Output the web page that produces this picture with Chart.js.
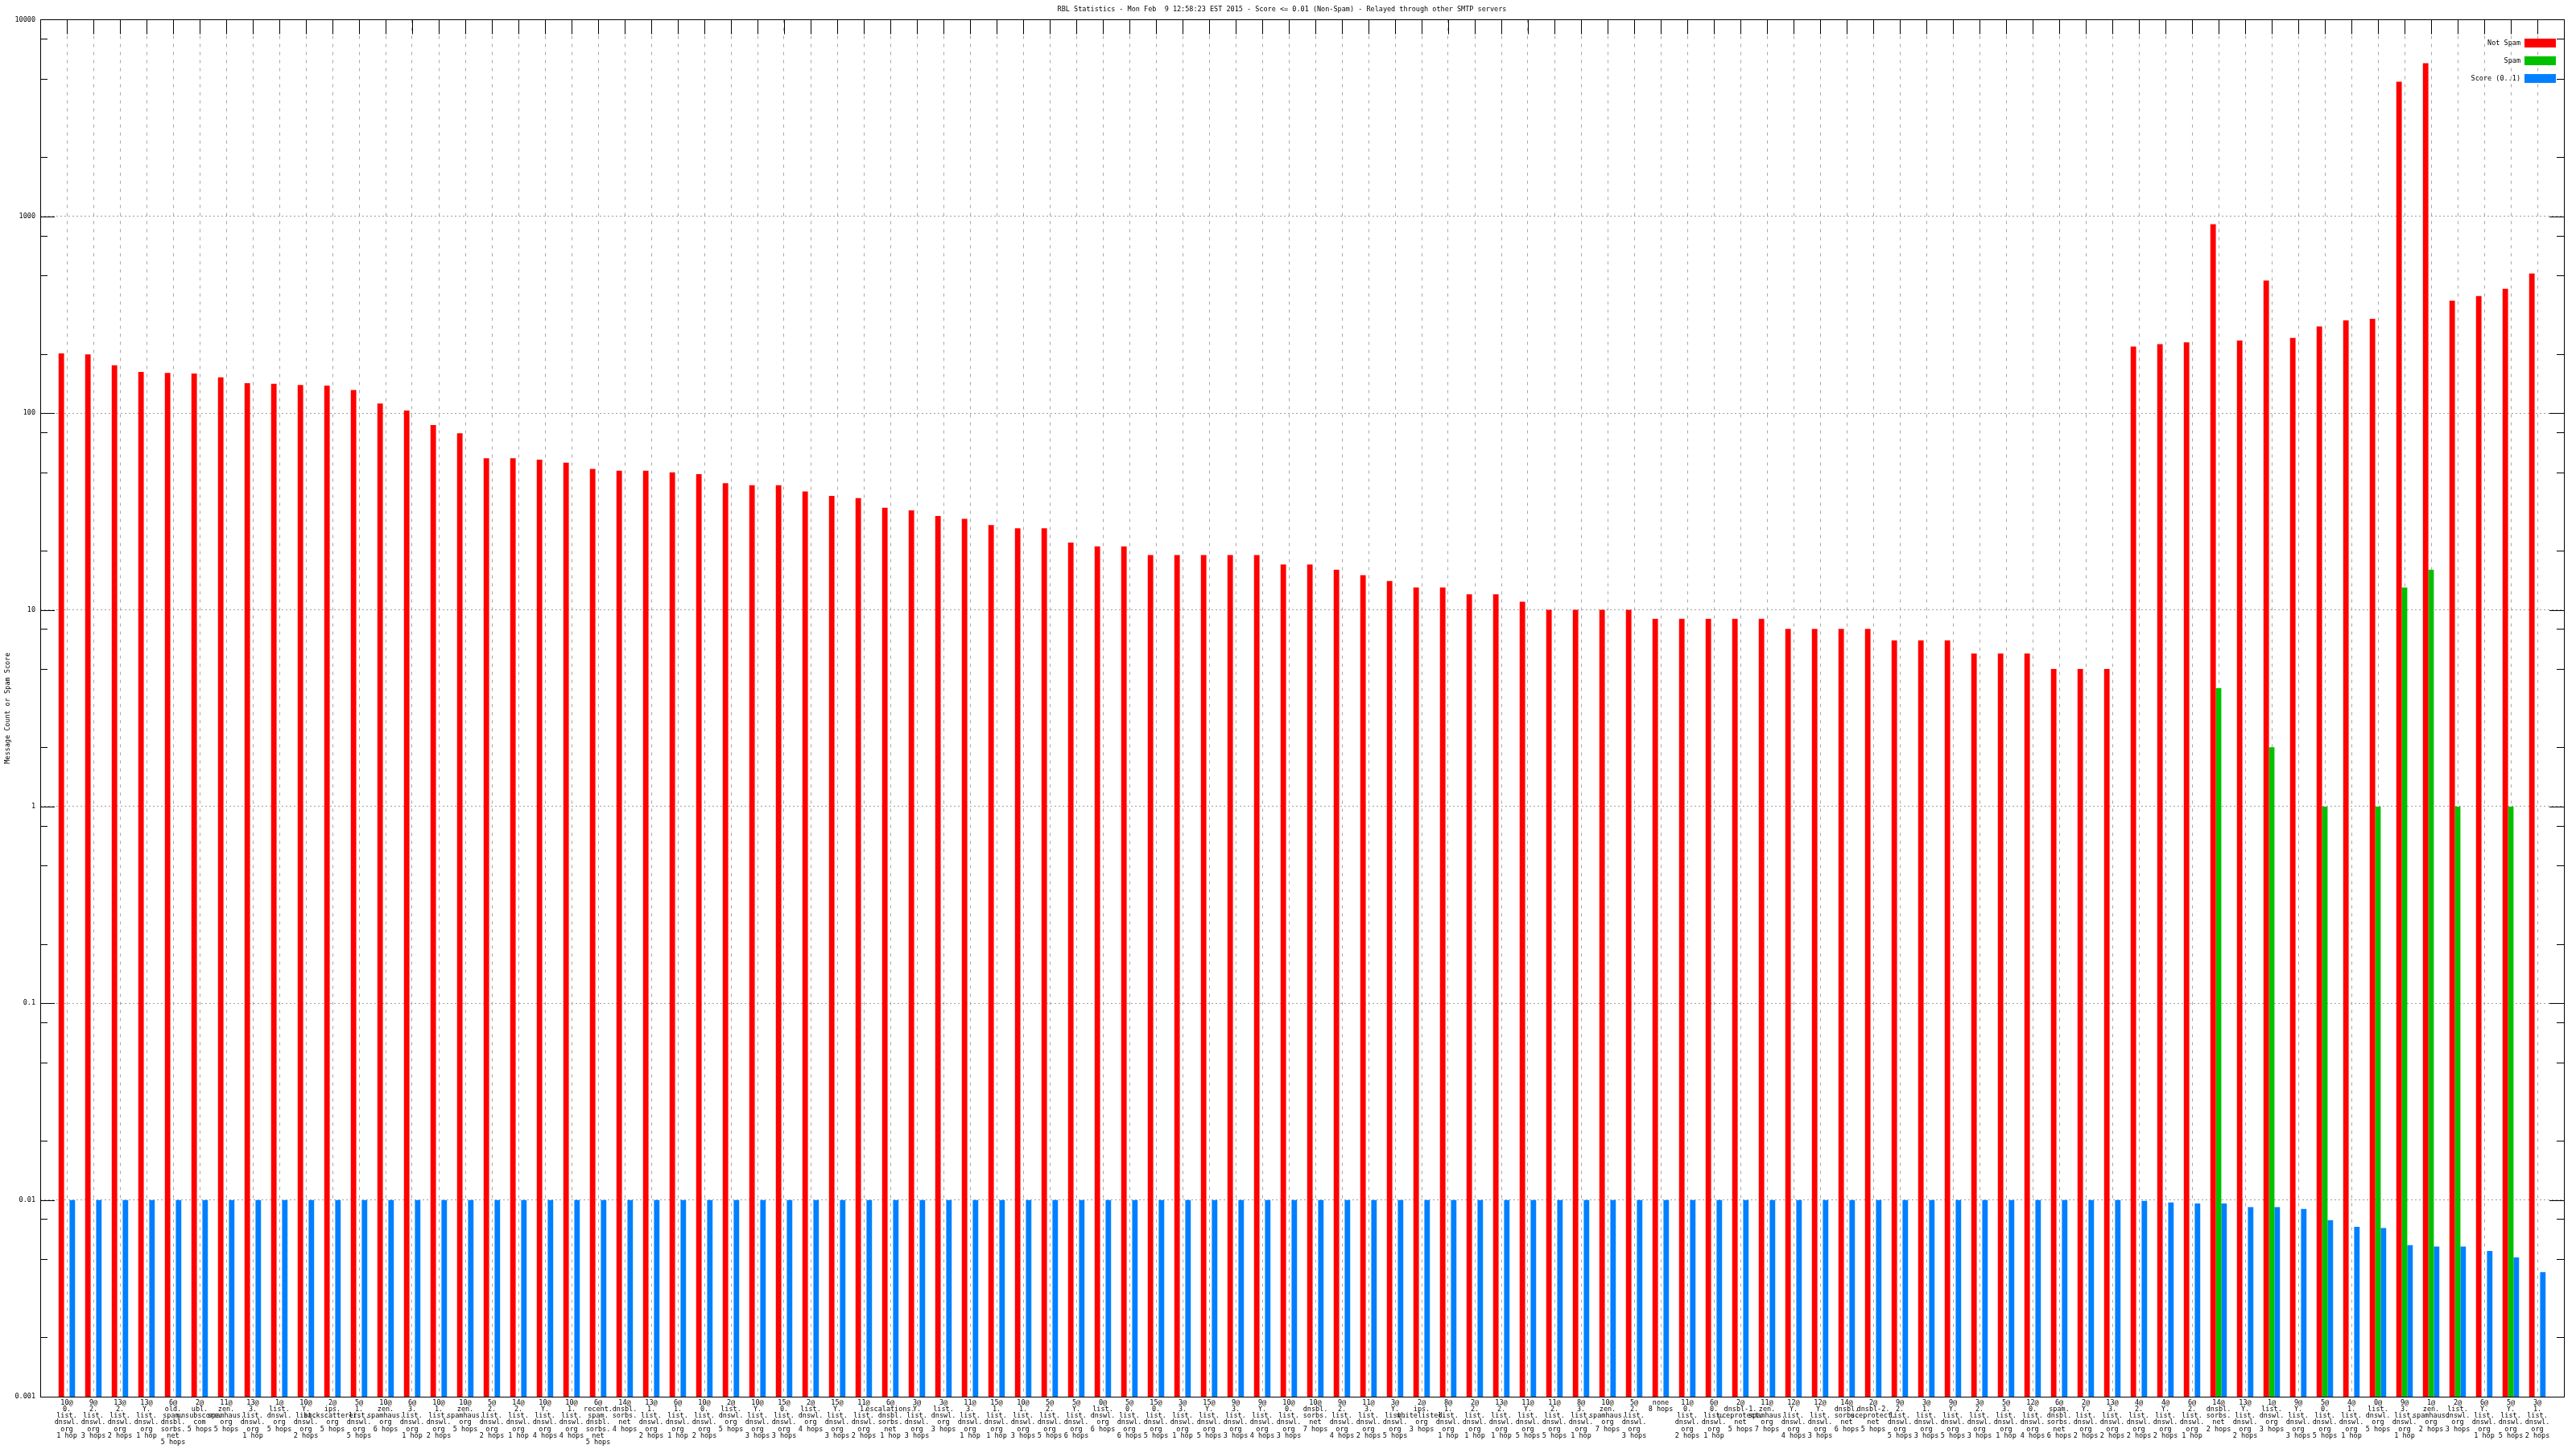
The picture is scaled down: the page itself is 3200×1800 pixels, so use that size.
<!DOCTYPE html>
<html>
<head>
<meta charset="utf-8">
<title>RBL Statistics</title>
<script src="https://cdn.jsdelivr.net/npm/chart.js@4/dist/chart.umd.min.js"></script>
<style>
  html, body { margin: 0; padding: 0; background: #fff; }
</style>
</head>
<body>
<canvas id="rblChart" width="3200" height="1800"></canvas>
<script>
// rbl lookups (one per bar group), split into lines on '@' and '.'
const rblNames = [
  '10@0.list.dnswl.org', '9@2.list.dnswl.org', '13@2.list.dnswl.org', '13@Y.list.dnswl.org',
  '6@old.spam.dnsbl.sorbs.net', '2@ubl.unsubscore.com', '11@zen.spamhaus.org', '13@3.list.dnswl.org',
  '1@list.dnswl.org', '10@Y.list.dnswl.org', '2@ips.backscatterer.org', '5@1.list.dnswl.org',
  '10@zen.spamhaus.org', '6@3.list.dnswl.org', '10@1.list.dnswl.org', '10@zen.spamhaus.org',
  '5@2.list.dnswl.org', '14@2.list.dnswl.org', '10@Y.list.dnswl.org', '10@1.list.dnswl.org',
  '6@recent.spam.dnsbl.sorbs.net', '14@dnsbl.sorbs.net', '13@1.list.dnswl.org', '6@1.list.dnswl.org',
  '10@0.list.dnswl.org', '2@list.dnswl.org', '10@Y.list.dnswl.org', '15@0.list.dnswl.org',
  '2@list.dnswl.org', '15@Y.list.dnswl.org', '11@1.list.dnswl.org', '6@escalations.dnsbl.sorbs.net',
  '3@Y.list.dnswl.org', '3@list.dnswl.org', '11@3.list.dnswl.org', '15@1.list.dnswl.org',
  '10@1.list.dnswl.org', '5@2.list.dnswl.org', '5@Y.list.dnswl.org', '0@list.dnswl.org',
  '5@0.list.dnswl.org', '15@0.list.dnswl.org', '3@3.list.dnswl.org', '15@Y.list.dnswl.org',
  '9@3.list.dnswl.org', '9@Y.list.dnswl.org', '10@0.list.dnswl.org', '10@dnsbl.sorbs.net',
  '9@2.list.dnswl.org', '11@3.list.dnswl.org', '3@Y.list.dnswl.org', '2@ips.whitelisted.org',
  '8@1.list.dnswl.org', '2@2.list.dnswl.org', '13@2.list.dnswl.org', '11@Y.list.dnswl.org',
  '11@2.list.dnswl.org', '8@3.list.dnswl.org', '10@zen.spamhaus.org', '5@2.list.dnswl.org',
  'none', '11@0.list.dnswl.org', '6@0.list.dnswl.org', '2@dnsbl-1.uceprotect.net',
  '11@zen.spamhaus.org', '12@Y.list.dnswl.org', '12@Y.list.dnswl.org', '14@dnsbl.sorbs.net',
  '2@dnsbl-2.uceprotect.net', '9@2.list.dnswl.org', '3@1.list.dnswl.org', '9@Y.list.dnswl.org',
  '3@2.list.dnswl.org', '5@3.list.dnswl.org', '12@0.list.dnswl.org', '6@spam.dnsbl.sorbs.net',
  '2@Y.list.dnswl.org', '13@3.list.dnswl.org', '4@2.list.dnswl.org', '4@Y.list.dnswl.org',
  '6@2.list.dnswl.org', '14@dnsbl.sorbs.net', '13@Y.list.dnswl.org', '1@list.dnswl.org',
  '9@Y.list.dnswl.org', '5@0.list.dnswl.org', '4@1.list.dnswl.org', '0@list.dnswl.org',
  '9@3.list.dnswl.org', '1@zen.spamhaus.org', '2@list.dnswl.org', '6@Y.list.dnswl.org',
  '5@Y.list.dnswl.org', '3@1.list.dnswl.org'
];

const hopCounts = [
  '1 hop', '3 hops', '2 hops', '1 hop', '5 hops', '5 hops', '5 hops', '1 hop',
  '5 hops', '2 hops', '5 hops', '5 hops', '6 hops', '1 hop', '2 hops', '5 hops',
  '2 hops', '1 hop', '4 hops', '4 hops', '5 hops', '4 hops', '2 hops', '1 hop',
  '2 hops', '5 hops', '3 hops', '3 hops', '4 hops', '3 hops', '2 hops', '1 hop',
  '3 hops', '3 hops', '1 hop', '1 hop', '3 hops', '5 hops', '6 hops', '6 hops',
  '6 hops', '5 hops', '1 hop', '5 hops', '3 hops', '4 hops', '3 hops', '7 hops',
  '4 hops', '2 hops', '5 hops', '3 hops', '1 hop', '1 hop', '1 hop', '5 hops',
  '5 hops', '1 hop', '7 hops', '3 hops', '8 hops', '2 hops', '1 hop', '5 hops',
  '7 hops', '4 hops', '3 hops', '6 hops', '5 hops', '5 hops', '3 hops', '5 hops',
  '3 hops', '1 hop', '4 hops', '6 hops', '2 hops', '2 hops', '2 hops', '2 hops',
  '1 hop', '2 hops', '2 hops', '3 hops', '3 hops', '5 hops', '1 hop', '5 hops',
  '1 hop', '2 hops', '3 hops', '1 hop', '5 hops', '2 hops'
];

const notSpam = [
  201, 199, 175, 162, 160, 159, 152, 142, 141, 139, 138, 131, 112, 103, 87, 79,
  59, 59, 58, 56, 52, 51, 51, 50, 49, 44, 43, 43, 40, 38, 37, 33,
  32, 30, 29, 27, 26, 26, 22, 21, 21, 19, 19, 19, 19, 19, 17, 17,
  16, 15, 14, 13, 13, 12, 12, 11, 10, 10, 10, 10, 9, 9, 9, 9,
  9, 8, 8, 8, 8, 7, 7, 7, 6, 6, 6, 5, 5, 5, 218, 224,
  229, 912, 234, 472, 241, 276, 296, 302, 4840, 6010, 373, 394, 429, 513
];

const spam = [
  null, null, null, null, null, null, null, null, null, null, null, null, null, null, null, null,
  null, null, null, null, null, null, null, null, null, null, null, null, null, null, null, null,
  null, null, null, null, null, null, null, null, null, null, null, null, null, null, null, null,
  null, null, null, null, null, null, null, null, null, null, null, null, null, null, null, null,
  null, null, null, null, null, null, null, null, null, null, null, null, null, null, null, null,
  null, 4, null, 2, null, 1, null, 1, 13, 16, 1, null, 1, null
];

const score = [
  0.01, 0.01, 0.01, 0.01, 0.01, 0.01, 0.01, 0.01, 0.01, 0.01, 0.01, 0.01, 0.01, 0.01, 0.01, 0.01,
  0.01, 0.01, 0.01, 0.01, 0.01, 0.01, 0.01, 0.01, 0.01, 0.01, 0.01, 0.01, 0.01, 0.01, 0.01, 0.01,
  0.01, 0.01, 0.01, 0.01, 0.01, 0.01, 0.01, 0.01, 0.01, 0.01, 0.01, 0.01, 0.01, 0.01, 0.01, 0.01,
  0.01, 0.01, 0.01, 0.01, 0.01, 0.01, 0.01, 0.01, 0.01, 0.01, 0.01, 0.01, 0.01, 0.01, 0.01, 0.01,
  0.01, 0.01, 0.01, 0.01, 0.01, 0.01, 0.01, 0.01, 0.01, 0.01, 0.01, 0.01, 0.01, 0.01, 0.0099, 0.0097,
  0.0096, 0.0096, 0.0092, 0.0092, 0.009, 0.0079, 0.0073, 0.0072, 0.0059, 0.0058, 0.0058, 0.0055, 0.0051, 0.0043
];

const yTickValues = [0.001, 0.01, 0.1, 1, 10, 100, 1000, 10000];
const yTickLabels = ['0.001', '0.01', '0.1', '1', '10', '100', '1000', '10000'];
const yMinorFactors = [2, 5, 8];

const chartTitle = 'RBL Statistics - Mon Feb  9 12:58:23 EST 2015 - Score <= 0.01 (Non-Spam) - Relayed through other SMTP servers';

const FONT = { family: '"DejaVu Sans Mono", monospace', size: 8.5, weight: 'normal', lineHeight: 0.95 };

function labelLines(i) {
  return rblNames[i].split(/(?<=[@.])/).concat(hopCounts[i]);
}

function toPoints(values) {
  return values.map((v, i) => ({ x: i + 1, y: v }));
}

function isDecade(v) {
  const l = Math.log10(v);
  return Math.abs(l - Math.round(l)) < 1e-9;
}

// gnuplot style frame: border, inward ticks, legend with the key box on the right
const gnuplotFrame = {
  id: 'gnuplotFrame',
  afterDatasetsDraw(chart) {
    const { ctx, chartArea: a, scales: { x, y } } = chart;
    ctx.save();
    ctx.strokeStyle = '#000';
    ctx.lineWidth = 1;
    ctx.beginPath();
    x.ticks.forEach(t => {
      const px = Math.round(x.getPixelForValue(t.value)) + 0.5;
      ctx.moveTo(px, a.top);
      ctx.lineTo(px, a.top + 18);
    });
    y.ticks.forEach(t => {
      const py = Math.round(y.getPixelForValue(t.value)) + 0.5;
      const len = isDecade(t.value) ? 18 : 9;
      ctx.moveTo(a.left, py);
      ctx.lineTo(a.left + len, py);
      ctx.moveTo(a.right, py);
      ctx.lineTo(a.right - len, py);
    });
    ctx.stroke();
    ctx.strokeRect(Math.round(a.left) + 0.5, Math.round(a.top) + 0.5,
      Math.round(a.right - a.left), Math.round(a.bottom - a.top));

    // legend
    ctx.font = FONT.size + 'px ' + FONT.family;
    ctx.textAlign = 'right';
    ctx.textBaseline = 'middle';
    chart.data.datasets.forEach((ds, i) => {
      const cy = a.top + 29 + i * 22;
      ctx.fillStyle = '#000';
      ctx.fillText(ds.label, a.right - 54, cy);
      ctx.fillStyle = ds.backgroundColor;
      ctx.fillRect(a.right - 49, cy - 5.5, 39, 11);
    });
    ctx.restore();
  }
};

new Chart(document.getElementById('rblChart'), {
  type: 'bar',
  data: {
    datasets: [
      { label: 'Not Spam', data: toPoints(notSpam), backgroundColor: '#ff0000' },
      { label: 'Spam', data: toPoints(spam), backgroundColor: '#00c000' },
      { label: 'Score (0..1)', data: toPoints(score), backgroundColor: '#0080ff' }
    ]
  },
  options: {
    responsive: false,
    animation: false,
    layout: { padding: { left: 0, right: 15, top: 0, bottom: 0 } },
    datasets: { bar: { categoryPercentage: 0.62, barPercentage: 1.0 } },
    plugins: {
      legend: { display: false },
      tooltip: { enabled: false },
      title: {
        display: true,
        text: chartTitle,
        color: '#000',
        font: FONT,
        padding: { top: 8, bottom: 8.4 }
      }
    },
    scales: {
      x: {
        type: 'linear',
        min: 0,
        max: rblNames.length + 1,
        offset: false,
        afterBuildTicks: s => { s.ticks = rblNames.map((_, i) => ({ value: i + 1 })); },
        afterFit: s => { s.height = 65; },
        ticks: {
          autoSkip: false,
          maxRotation: 0,
          minRotation: 0,
          padding: 4,
          color: '#000',
          font: FONT,
          callback: v => labelLines(v - 1)
        },
        grid: { color: '#a8a8a8', lineWidth: 1, drawTicks: false, offset: false },
        border: { display: false, dash: [4, 6] }
      },
      y: {
        type: 'logarithmic',
        min: 0.001,
        max: 10000,
        afterBuildTicks: s => {
          const t = [];
          yTickValues.forEach(v => {
            t.push({ value: v });
            if (v < 10000) yMinorFactors.forEach(f => t.push({ value: v * f }));
          });
          s.ticks = t.sort((p, q) => p.value - q.value);
        },
        afterFit: s => { s.width = 50; },
        ticks: {
          autoSkip: false,
          padding: 6,
          color: '#000',
          font: FONT,
          callback: v => {
            const k = yTickValues.indexOf(v);
            return k >= 0 ? yTickLabels[k] : '';
          }
        },
        grid: {
          drawTicks: false,
          lineWidth: 1,
          color: c => (c.tick && isDecade(c.tick.value) && c.tick.value > 0.001 && c.tick.value < 10000)
            ? '#a0a0a0' : 'rgba(0,0,0,0)'
        },
        border: { display: false, dash: [2, 3] },
        title: {
          display: true,
          text: 'Message Count or Spam Score',
          color: '#000',
          font: FONT,
          padding: { top: 6, bottom: 0 }
        }
      }
    }
  },
  plugins: [gnuplotFrame]
});
</script>
</body>
</html>
